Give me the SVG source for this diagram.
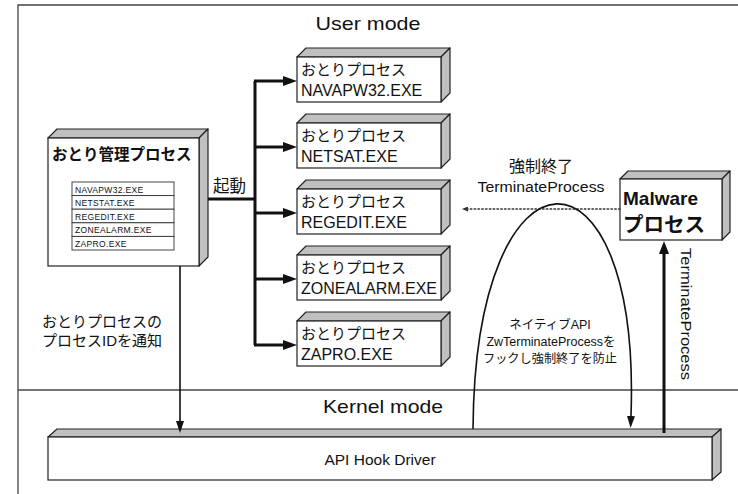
<svg xmlns="http://www.w3.org/2000/svg" width="738" height="494" viewBox="0 0 738 494">
<style>
text{font-family:'Liberation Sans','Noto Sans CJK JP',sans-serif;fill:#111}
.front{fill:#fff;stroke:#222;stroke-width:1.2}
.face{fill:#c0c0c0;stroke:#222;stroke-width:1.2;stroke-linejoin:round}
.frame{fill:none;stroke:#444;stroke-width:1.3}
.thick{fill:none;stroke:#111;stroke-width:3}
.thin{fill:none;stroke:#111;stroke-width:1.6}
.dot{fill:none;stroke:#333;stroke-width:1.6;stroke-dasharray:1.4 2.4;stroke-linecap:round}
.jp{font-size:15px}
.exe{font-size:16px}
.tbl{font-size:8.5px;letter-spacing:0.35px}
.row{fill:#fff;stroke:#333;stroke-width:0.9}
</style>
<defs>
<marker id="ahL" markerUnits="userSpaceOnUse" markerWidth="14" markerHeight="10" refX="0" refY="5" orient="auto"><path d="M0,0 L14,5 L0,10 z" fill="#111"/></marker>
<marker id="ahS" markerUnits="userSpaceOnUse" markerWidth="12" markerHeight="8" refX="0" refY="4" orient="auto"><path d="M0,0 L12,4 L0,8 z" fill="#111"/></marker>
<marker id="ahM" markerUnits="userSpaceOnUse" markerWidth="13" markerHeight="10" refX="0" refY="5" orient="auto"><path d="M0,0 L13,5 L0,10 z" fill="#111"/></marker>
<marker id="ahD" markerUnits="userSpaceOnUse" markerWidth="6" markerHeight="5" refX="0" refY="2.5" orient="auto"><path d="M0,0 L6,2.5 L0,5 z" fill="#333"/></marker>
</defs>

<g id="frame">
<path class="frame" d="M18,494 L18,5 L738,5"/>
<path class="frame" d="M18,390 L738,390"/>
<text x="368" y="30" font-size="19" text-anchor="middle" textLength="105" lengthAdjust="spacingAndGlyphs">User mode</text>
<text x="383" y="413" font-size="19" text-anchor="middle" textLength="120" lengthAdjust="spacingAndGlyphs">Kernel mode</text>
</g>

<g id="manager">
<path class="face" d="M48,138 L57,129 L208,129 L199,138 z"/>
<path class="face" d="M199,138 L208,129 L208,257 L199,266 z"/>
<rect class="front" x="48" y="138" width="151" height="128"/>
<text x="52" y="160" font-size="15.5" font-weight="bold">おとり管理プロセス</text>
<rect class="row" x="72" y="182" width="102" height="13.6"/>
<rect class="row" x="72" y="195.6" width="102" height="13.6"/>
<rect class="row" x="72" y="209.2" width="102" height="13.6"/>
<rect class="row" x="72" y="222.8" width="102" height="13.6"/>
<rect class="row" x="72" y="236.4" width="102" height="13.6"/>
<text class="tbl" x="75" y="192.5">NAVAPW32.EXE</text>
<text class="tbl" x="75" y="206.1">NETSTAT.EXE</text>
<text class="tbl" x="75" y="219.7">REGEDIT.EXE</text>
<text class="tbl" x="75" y="233.3">ZONEALARM.EXE</text>
<text class="tbl" x="75" y="246.9">ZAPRO.EXE</text>
</g>

<g id="decoy1">
<path class="face" d="M297,57 L306,48 L450,48 L441,57 z"/>
<path class="face" d="M441,57 L450,48 L450,93 L441,102 z"/>
<rect class="front" x="297" y="57" width="144" height="45"/>
<text class="jp" x="301" y="75">おとりプロセス</text>
<text class="exe" x="301" y="96">NAVAPW32.EXE</text>
</g>
<g id="decoy2">
<path class="face" d="M297,123 L306,114 L450,114 L441,123 z"/>
<path class="face" d="M441,123 L450,114 L450,159 L441,168 z"/>
<rect class="front" x="297" y="123" width="144" height="45"/>
<text class="jp" x="301" y="141">おとりプロセス</text>
<text class="exe" x="301" y="162">NETSAT.EXE</text>
</g>
<g id="decoy3">
<path class="face" d="M297,189 L306,180 L450,180 L441,189 z"/>
<path class="face" d="M441,189 L450,180 L450,225 L441,234 z"/>
<rect class="front" x="297" y="189" width="144" height="45"/>
<text class="jp" x="301" y="207">おとりプロセス</text>
<text class="exe" x="301" y="228">REGEDIT.EXE</text>
</g>
<g id="decoy4">
<path class="face" d="M297,255 L306,246 L450,246 L441,255 z"/>
<path class="face" d="M441,255 L450,246 L450,291 L441,300 z"/>
<rect class="front" x="297" y="255" width="144" height="45"/>
<text class="jp" x="301" y="273">おとりプロセス</text>
<text class="exe" x="301" y="294" textLength="136" lengthAdjust="spacingAndGlyphs">ZONEALARM.EXE</text>
</g>
<g id="decoy5">
<path class="face" d="M297,321 L306,312 L450,312 L441,321 z"/>
<path class="face" d="M441,321 L450,312 L450,357 L441,366 z"/>
<rect class="front" x="297" y="321" width="144" height="45"/>
<text class="jp" x="301" y="339">おとりプロセス</text>
<text class="exe" x="301" y="360">ZAPRO.EXE</text>
</g>

<g id="malware">
<path class="face" d="M620,179 L628,171 L730,171 L722,179 z"/>
<path class="face" d="M722,179 L730,171 L730,232 L722,240 z"/>
<rect class="front" x="620" y="179" width="102" height="61"/>
<text x="623" y="205" font-size="19" font-weight="bold">Malware</text>
<text x="623" y="232" font-size="20.5" font-weight="bold">プロセス</text>
</g>

<g id="driver">
<path class="face" d="M48,437 L57,429 L721,429 L712,437 z"/>
<path class="face" d="M712,437 L721,429 L721,472 L712,480 z"/>
<rect class="front" x="48" y="437" width="664" height="43"/>
<text x="380" y="465" font-size="15.5" text-anchor="middle">API Hook Driver</text>
</g>

<g id="connectors">
<path class="thick" d="M208,199 L255,199"/>
<path class="thick" d="M255,81 L255,345"/>
<path class="thick" d="M254,81 L283,81" marker-end="url(#ahL)"/>
<path class="thick" d="M254,147 L283,147" marker-end="url(#ahL)"/>
<path class="thick" d="M254,213 L283,213" marker-end="url(#ahL)"/>
<path class="thick" d="M254,279 L283,279" marker-end="url(#ahL)"/>
<path class="thick" d="M254,345 L283,345" marker-end="url(#ahL)"/>
<text x="213" y="192" font-size="16.5">起動</text>

<path class="thin" d="M180,266 L180,421" marker-end="url(#ahS)"/>
<text class="jp" x="102" y="327" text-anchor="middle">おとりプロセスの</text>
<text class="jp" x="102" y="346" text-anchor="middle">プロセスIDを通知</text>

<path class="dot" d="M620,209 L468,209" marker-end="url(#ahD)"/>
<text x="541" y="172" font-size="16" text-anchor="middle">強制終了</text>
<text x="541" y="192" font-size="15.5" text-anchor="middle" textLength="127" lengthAdjust="spacingAndGlyphs">TerminateProcess</text>

<path class="thin" stroke-width="1.8" d="M473,429 C475,131 641,131 631,416" marker-end="url(#ahS)"/>
<text x="550" y="329" font-size="12.5" text-anchor="middle">ネイティブAPI</text>
<text x="551" y="346" font-size="12.5" text-anchor="middle">ZwTerminateProcessを</text>
<text x="550" y="363" font-size="12.2" text-anchor="middle">フックし強制終了を防止</text>

<path class="thick" stroke-width="3.5" d="M664,433 L664,254" marker-end="url(#ahM)"/>
<text x="681" y="248" font-size="15.5" transform="rotate(90 681 248)" textLength="132" lengthAdjust="spacingAndGlyphs">TerminateProcess</text>
</g>
</svg>
